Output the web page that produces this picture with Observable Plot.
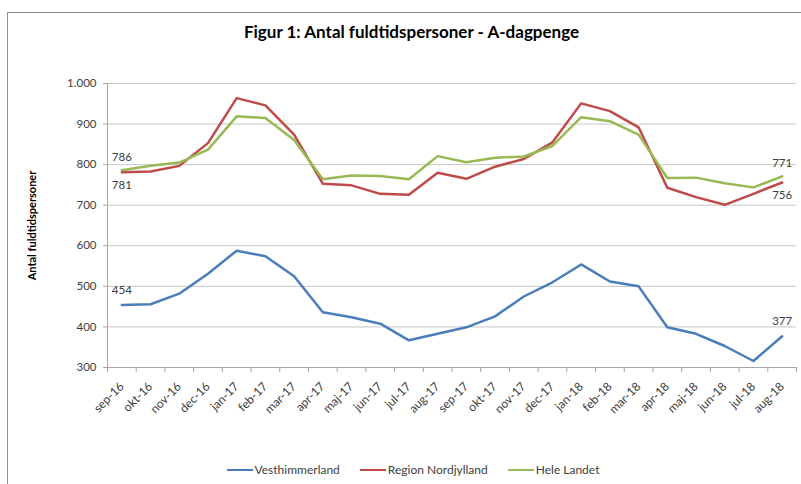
<!DOCTYPE html>
<html><head><meta charset="utf-8">
<script src="https://cdn.jsdelivr.net/npm/d3@7"></script>
<script src="https://cdn.jsdelivr.net/npm/@observablehq/plot@0.6"></script>
<style>
body{margin:0;background:#fff;font-family:Lato,"Open Sans",sans-serif;}
#wrap{position:relative;width:801px;height:484px;overflow:hidden;background:#fff;}
#frame{position:absolute;left:7px;top:12px;width:830px;height:520px;border-top:1px solid #8f8f8f;border-left:1px solid #8f8f8f;}
#title{position:absolute;top:22px;left:22px;width:779px;text-align:center;font-weight:bold;font-size:17px;line-height:20px;color:#000;}
#chart{position:absolute;left:0;top:0;}
#legend{position:absolute;top:463px;left:0;width:826px;display:flex;justify-content:center;gap:20px;font-size:12px;line-height:14px;color:#404040;}
.item{display:flex;align-items:center;gap:2px;}
.sw{width:26px;height:2.5px;}
</style>
</head><body>
<div id="wrap">
<div id="frame"></div>
<div id="chart"></div>
<div id="title">Figur 1: Antal fuldtidspersoner - A-dagpenge</div>
<div id="legend"></div>
</div>
<script>
const months = ["sep-16","okt-16","nov-16","dec-16","jan-17","feb-17","mar-17","apr-17","maj-17","jun-17","jul-17","aug-17","sep-17","okt-17","nov-17","dec-17","jan-18","feb-18","mar-18","apr-18","maj-18","jun-18","jul-18","aug-18"];
const seriesNames = ["Vesthimmerland","Region Nordjylland","Hele Landet"];
const vesthimmerland = [454,456,482,531,588,574,525,436,424,408,367,383,399,426,475,510,554,512,500,399,383,353,316,377];
const regionNordjylland = [781,783,797,853,964,946,874,753,749,728,726,780,765,795,814,855,951,932,892,743,720,701,728,756];
const heleLandet = [786,797,805,837,919,915,861,764,773,772,764,821,806,817,820,846,917,907,874,767,768,754,744,771];
const yTicks = [300,400,500,600,700,800,900,1000];
const colors = ["#4a7ebb","#be4b48","#98b954"];

const valuesBySeries = [vesthimmerland, regionNordjylland, heleLandet];
const rows = seriesNames.flatMap((name, s) => valuesBySeries[s].map((v, i) => ({series: name, i, v})));
const ends = rows.filter(d => d.i === 0 || d.i === months.length - 1);
const fmt = d => d >= 1000 ? d3.format(",")(d).replace(/,/g, ".") : String(d);
const boundaries = d3.range(months.length + 1).map(k => k - 0.5);
const gridC = "#c6c6c6", axisC = "#a6a6a6", textC = "#404040";

const chart = Plot.plot({
  width: 801, height: 440,
  marginLeft: 107, marginRight: 5, marginTop: 83, marginBottom: 73,
  x: {type: "linear", domain: [-0.5, months.length - 0.5]},
  y: {domain: [300, 1000]},
  color: {domain: seriesNames, range: colors},
  style: {fontFamily: "Lato, 'Open Sans', sans-serif", fontSize: "11.5px", color: textC, background: "transparent", overflow: "visible"},
  marks: [
    Plot.gridY(yTicks, {stroke: gridC, strokeOpacity: 1}),
    Plot.ruleY([300], {stroke: axisC}),
    Plot.ruleX([-0.5], {stroke: axisC}),
    Plot.axisY({ticks: yTicks, tickSize: 4, tickPadding: 7, tickFormat: fmt, label: null, stroke: axisC, fill: textC}),
    Plot.axisX({ticks: boundaries, tickSize: 5, tickFormat: () => "", label: null, stroke: axisC}),
    Plot.axisX({ticks: d3.range(months.length), tickSize: 0, tickPadding: 17, tickRotate: -45, tickFormat: i => months[i], label: null, fill: textC, fontSize: 12}),
    Plot.line(rows, {x: "i", y: "v", z: "series", stroke: "series", strokeWidth: 2.5}),
    Plot.text(ends.filter(d => d.series === seriesNames[0]), {x: "i", y: "v", text: d => fmt(d.v), dy: -15, fill: textC}),
    Plot.text(ends.filter(d => d.series === seriesNames[1]), {x: "i", y: "v", text: d => fmt(d.v), dy: 13, fill: textC}),
    Plot.text(ends.filter(d => d.series === seriesNames[2]), {x: "i", y: "v", text: d => fmt(d.v), dy: -13, fill: textC}),
    Plot.text(["Antal fuldtidspersoner"], {frameAnchor: "left", textAnchor: "middle", rotate: -90, dx: -75, fontWeight: "bold", fontSize: 11, fill: "#000"})
  ]
});
document.getElementById("chart").appendChild(chart);

const legend = document.getElementById("legend");
seriesNames.forEach((name, k) => {
  const item = document.createElement("div");
  item.className = "item";
  const sw = document.createElement("div");
  sw.className = "sw";
  sw.style.background = colors[k];
  const lab = document.createElement("span");
  lab.textContent = name;
  item.appendChild(sw); item.appendChild(lab);
  legend.appendChild(item);
});
</script>
</body></html>
